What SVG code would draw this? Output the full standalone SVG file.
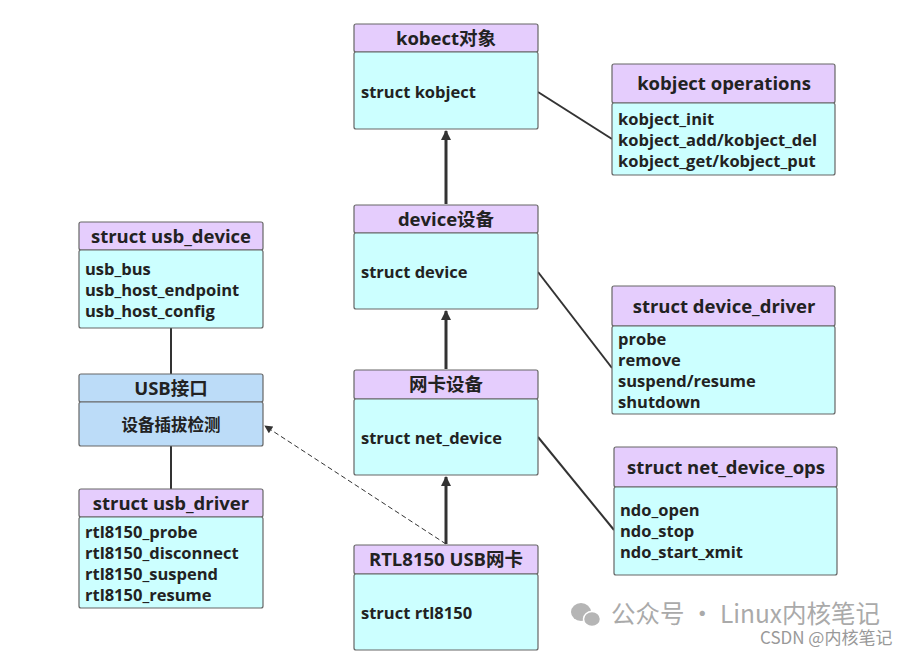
<svg xmlns="http://www.w3.org/2000/svg" width="913" height="654" viewBox="0 0 913 654">
<style>
text{font-family:"Open Sans","Noto Sans CJK SC",sans-serif;font-weight:700;fill:#222;}
.h{font-size:18.5px;text-anchor:middle;}
.b{font-size:16.5px;}
.hd{fill:#e5cdfd;stroke:#666;stroke-width:1.2;}
.bd{fill:#ccffff;stroke:#666;stroke-width:1.2;}
.bl{fill:#bcdcf8;stroke:#666;stroke-width:1.2;}
.ln{stroke:#333;stroke-width:2;fill:none;}
.ar{stroke:#333;stroke-width:3;fill:none;}
.wm{font-family:"Noto Sans CJK SC","Noto Sans",sans-serif;font-weight:400;fill:#aaa;}
</style>
<defs>
<marker id="a" viewBox="0 0 10 10" refX="9" refY="5" markerWidth="3.5" markerHeight="4" orient="auto" markerUnits="strokeWidth">
<path d="M0,0 L10,5 L0,10 z" fill="#333"/>
</marker>
<marker id="d" viewBox="0 0 10 10" refX="9" refY="5" markerWidth="9" markerHeight="8" orient="auto" markerUnits="userSpaceOnUse">
<path d="M0,0 L10,5 L0,10 z" fill="#333"/>
</marker>
</defs>
<g id="connectors">
<line class="ar" x1="446" y1="204" x2="446" y2="131" marker-end="url(#a)"/>
<line class="ar" x1="446" y1="369" x2="446" y2="311" marker-end="url(#a)"/>
<line class="ar" x1="446" y1="544" x2="446" y2="477" marker-end="url(#a)"/>
<line class="ln" x1="538" y1="92" x2="612" y2="139"/>
<line class="ln" x1="538" y1="272" x2="612" y2="368"/>
<line class="ln" x1="538" y1="437" x2="614" y2="530"/>
<line class="ln" x1="171" y1="328" x2="171" y2="374"/>
<line class="ln" x1="171" y1="446" x2="171" y2="489"/>
<line x1="446" y1="544" x2="265" y2="426" stroke="#333" stroke-width="1" stroke-dasharray="5,3" marker-end="url(#d)"/>
</g>
<g id="kobject">
<rect class="hd" x="354" y="24" width="184" height="28" rx="2"/>
<rect class="bd" x="354" y="52" width="184" height="77" rx="2"/>
<text class="h" x="446" y="45">kobect对象</text>
<text class="b" x="361" y="98">struct kobject</text>
</g>
<g id="device">
<rect class="hd" x="354" y="205" width="184" height="28" rx="2"/>
<rect class="bd" x="354" y="233" width="184" height="76" rx="2"/>
<text class="h" x="446" y="226">device设备</text>
<text class="b" x="361" y="278">struct device</text>
</g>
<g id="netdev">
<rect class="hd" x="354" y="370" width="184" height="29" rx="2"/>
<rect class="bd" x="354" y="399" width="184" height="76" rx="2"/>
<text class="h" x="446" y="391">网卡设备</text>
<text class="b" x="361" y="444">struct net_device</text>
</g>
<g id="rtl8150">
<rect class="hd" x="354" y="545" width="184" height="29" rx="2"/>
<rect class="bd" x="354" y="574" width="184" height="76" rx="2"/>
<text class="h" x="446" y="566">RTL8150 USB网卡</text>
<text class="b" x="361" y="619">struct rtl8150</text>
</g>
<g id="kobj-ops">
<rect class="hd" x="612" y="64" width="223" height="39" rx="2"/>
<rect class="bd" x="612" y="103" width="223" height="72" rx="2"/>
<text class="h" x="724" y="90">kobject operations</text>
<text class="b" x="618" y="125">kobject_init</text>
<text class="b" x="618" y="146">kobject_add/kobject_del</text>
<text class="b" x="618" y="167">kobject_get/kobject_put</text>
</g>
<g id="device-driver">
<rect class="hd" x="612" y="286" width="223" height="40" rx="2"/>
<rect class="bd" x="612" y="326" width="223" height="88" rx="2"/>
<text class="h" x="724" y="313">struct device_driver</text>
<text class="b" x="618" y="345">probe</text>
<text class="b" x="618" y="366">remove</text>
<text class="b" x="618" y="387">suspend/resume</text>
<text class="b" x="618" y="408">shutdown</text>
</g>
<g id="net-device-ops">
<rect class="hd" x="614" y="447" width="223" height="40" rx="2"/>
<rect class="bd" x="614" y="487" width="223" height="88" rx="2"/>
<text class="h" x="726" y="474">struct net_device_ops</text>
<text class="b" x="620" y="516">ndo_open</text>
<text class="b" x="620" y="537">ndo_stop</text>
<text class="b" x="620" y="558">ndo_start_xmit</text>
</g>
<g id="usb-device">
<rect class="hd" x="79" y="222" width="184" height="28" rx="2"/>
<rect class="bd" x="79" y="250" width="184" height="78" rx="2"/>
<text class="h" x="171" y="243">struct usb_device</text>
<text class="b" x="85" y="275">usb_bus</text>
<text class="b" x="85" y="296">usb_host_endpoint</text>
<text class="b" x="85" y="317">usb_host_config</text>
</g>
<g id="usb-if">
<rect class="bl" x="79" y="374" width="184" height="28" rx="2"/>
<rect class="bl" x="79" y="402" width="184" height="44" rx="2"/>
<text class="h" x="171" y="395">USB接口</text>
<text class="h" x="171" y="431" style="font-size:16.5px">设备插拔检测</text>
</g>
<g id="usb-driver">
<rect class="hd" x="79" y="489" width="184" height="28" rx="2"/>
<rect class="bd" x="79" y="517" width="184" height="91" rx="2"/>
<text class="h" x="171" y="510">struct usb_driver</text>
<text class="b" x="85" y="538">rtl8150_probe</text>
<text class="b" x="85" y="559">rtl8150_disconnect</text>
<text class="b" x="85" y="580">rtl8150_suspend</text>
<text class="b" x="85" y="601">rtl8150_resume</text>
</g>
<g id="watermark">
<ellipse cx="581" cy="612" rx="10" ry="9" fill="#b5b5b5"/>
<ellipse cx="592" cy="619" rx="8.5" ry="7.5" fill="#b5b5b5" stroke="#fff" stroke-width="1.5"/>
<text class="wm" x="611" y="623" style="font-size:24.5px">公众号 · Linux内核笔记</text>
<text class="wm" x="760" y="644" style="font-size:17px;fill:#999">CSDN @内核笔记</text>
</g>
</svg>
